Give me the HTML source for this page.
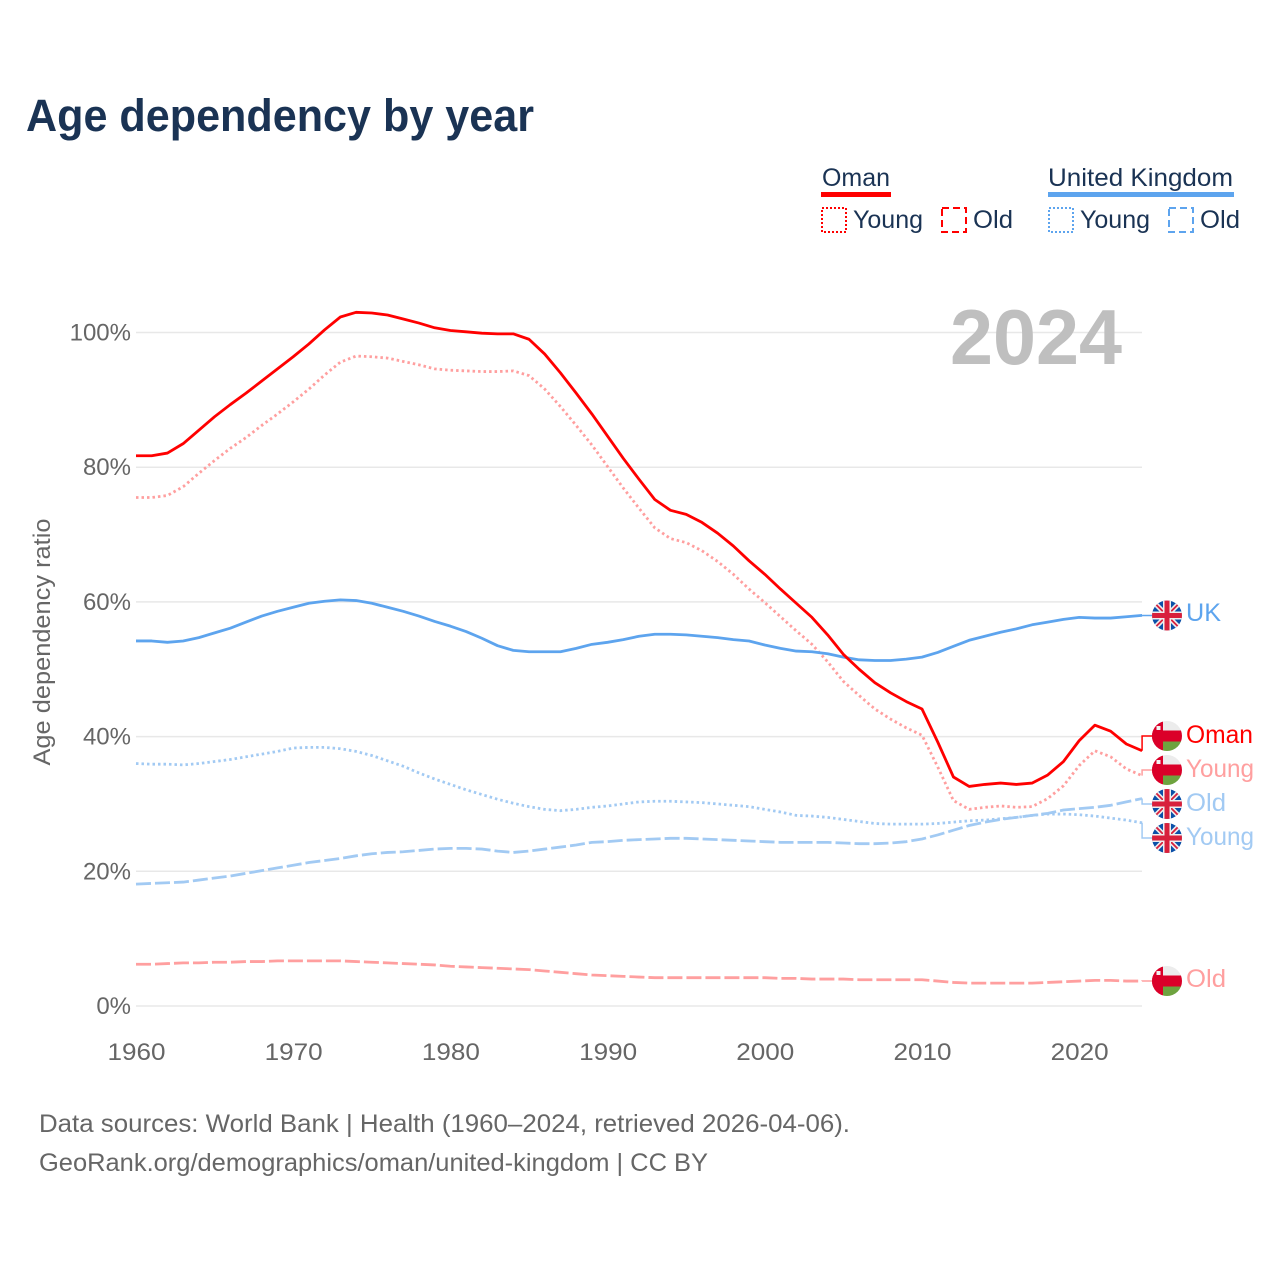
<!DOCTYPE html>
<html lang="en">
<head>
<meta charset="utf-8">
<title>Age dependency by year</title>
<style>
html,body{margin:0;padding:0;background:#fff;width:1280px;height:1280px;overflow:hidden}
svg{display:block}
text{font-family:"Liberation Sans",sans-serif}
.series{fill:none;stroke-linejoin:round}
.leader{fill:none;stroke-width:1.5}
.lbl{font-size:25px}
.legend-text{font-size:25px;fill:#1a3354}
.foot{font-size:25px;fill:#666}
</style>
</head>
<body>
<svg id="chart" xmlns="http://www.w3.org/2000/svg" width="1280" height="1280" viewBox="0 0 1280 1280">
<defs>
  <clipPath id="flag-clip"><circle cx="0" cy="0" r="15"/></clipPath>
  <g id="flag-oman" clip-path="url(#flag-clip)">
    <rect x="-15" y="-15" width="30" height="30" fill="#ececec"/>
    <rect x="-4" y="5.5" width="19" height="10" fill="#6ea33f"/>
    <rect x="-15" y="-5.5" width="30" height="11" fill="#db0029"/>
    <rect x="-15" y="-15" width="11" height="30" fill="#db0029"/>
    <rect x="-10.5" y="-10" width="4" height="4" fill="#f2f2f2"/>
  </g>
  <g id="flag-uk" clip-path="url(#flag-clip)">
    <rect x="-15" y="-15" width="30" height="30" fill="#0b50a8"/>
    <path d="M-15-15L15 15M15-15L-15 15" stroke="#eee" stroke-width="5"/>
    <path d="M-15-15L15 15M15-15L-15 15" stroke="#d8203c" stroke-width="1.8"/>
    <path d="M0-15V15M-15 0H15" stroke="#eee" stroke-width="8"/>
    <path d="M0-15V15M-15 0H15" stroke="#d8203c" stroke-width="5"/>
  </g>
</defs>

<text x="26" y="131" font-size="45" font-weight="700" fill="#1a3354" textLength="508" lengthAdjust="spacingAndGlyphs">Age dependency by year</text>

<g>
  <text class="legend-text" x="822" y="186" textLength="68" lengthAdjust="spacingAndGlyphs">Oman</text>
  <rect x="821" y="192" width="70" height="5" fill="#ff0000"/>
  <rect x="822" y="208" width="24" height="24" fill="none" stroke="#ff0000" stroke-width="2" stroke-dasharray="2 2"/>
  <text class="legend-text" x="853" y="228" textLength="70" lengthAdjust="spacingAndGlyphs">Young</text>
  <rect x="942" y="208" width="24" height="24" fill="none" stroke="#ff0000" stroke-width="2" stroke-dasharray="7 4"/>
  <text class="legend-text" x="973" y="228" textLength="40" lengthAdjust="spacingAndGlyphs">Old</text>

  <text class="legend-text" x="1048" y="186" textLength="185" lengthAdjust="spacingAndGlyphs">United Kingdom</text>
  <rect x="1048" y="192" width="186" height="5" fill="#5da4ee"/>
  <rect x="1049" y="208" width="24" height="24" fill="none" stroke="#5da4ee" stroke-width="2" stroke-dasharray="2 2"/>
  <text class="legend-text" x="1080" y="228" textLength="70" lengthAdjust="spacingAndGlyphs">Young</text>
  <rect x="1169" y="208" width="24" height="24" fill="none" stroke="#5da4ee" stroke-width="2" stroke-dasharray="7 4"/>
  <text class="legend-text" x="1200" y="228" textLength="40" lengthAdjust="spacingAndGlyphs">Old</text>
</g>

<g id="grid"></g>
<g id="yticks"></g>
<g id="xticks"></g>

<text x="950" y="364" font-size="78" font-weight="700" fill="#bfbfbf" textLength="172" lengthAdjust="spacingAndGlyphs">2024</text>

<text transform="translate(50,642) rotate(-90)" text-anchor="middle" font-size="24" fill="#666" textLength="247" lengthAdjust="spacingAndGlyphs">Age dependency ratio</text>

<g id="series">
  <path id="s-oman-old" class="series" stroke="#ff9f9f" stroke-width="2.8" stroke-dasharray="15 4"/>
  <path id="s-uk-old" class="series" stroke="#a2caf3" stroke-width="2.8" stroke-dasharray="15 4"/>
  <path id="s-uk-young" class="series" stroke="#a2caf3" stroke-width="2.8" stroke-dasharray="2.5 3"/>
  <path id="s-oman-young" class="series" stroke="#ff9f9f" stroke-width="2.8" stroke-dasharray="2.5 3"/>
  <path id="s-uk-total" class="series" stroke="#5da4ee" stroke-width="2.8"/>
  <path id="s-oman-total" class="series" stroke="#ff0000" stroke-width="2.8"/>
</g>

<g id="leaders">
  <path id="l-uk-total" class="leader" stroke="#5da4ee"/>
  <path id="l-oman-total" class="leader" stroke="#ff0000"/>
  <path id="l-oman-young" class="leader" stroke="#ff9f9f"/>
  <path id="l-uk-old" class="leader" stroke="#a2caf3"/>
  <path id="l-uk-young" class="leader" stroke="#a2caf3"/>
  <path id="l-oman-old" class="leader" stroke="#ff9f9f"/>
</g>

<g>
  <use href="#flag-uk" x="1167" y="615.5"/>
  <text class="lbl" x="1186" y="621" fill="#5da4ee" textLength="35" lengthAdjust="spacingAndGlyphs">UK</text>
  <use href="#flag-oman" x="1167" y="736"/>
  <text class="lbl" x="1186" y="743" fill="#ff0000" textLength="67" lengthAdjust="spacingAndGlyphs">Oman</text>
  <use href="#flag-oman" x="1167" y="770"/>
  <text class="lbl" x="1186" y="777" fill="#ff9f9f" textLength="68" lengthAdjust="spacingAndGlyphs">Young</text>
  <use href="#flag-uk" x="1167" y="804"/>
  <text class="lbl" x="1186" y="811" fill="#a2caf3" textLength="40" lengthAdjust="spacingAndGlyphs">Old</text>
  <use href="#flag-uk" x="1167" y="838"/>
  <text class="lbl" x="1186" y="845" fill="#a2caf3" textLength="68" lengthAdjust="spacingAndGlyphs">Young</text>
  <use href="#flag-oman" x="1167" y="981"/>
  <text class="lbl" x="1186" y="987" fill="#ff9f9f" textLength="40" lengthAdjust="spacingAndGlyphs">Old</text>
</g>

<text class="foot" x="39" y="1132" textLength="811" lengthAdjust="spacingAndGlyphs">Data sources: World Bank | Health (1960–2024, retrieved 2026-04-06).</text>
<text class="foot" x="39" y="1171" textLength="669" lengthAdjust="spacingAndGlyphs">GeoRank.org/demographics/oman/united-kingdom | CC BY</text>
</svg>

<script>
const years = [
1960,1961,1962,1963,1964,1965,1966,1967,1968,1969,
1970,1971,1972,1973,1974,1975,1976,1977,1978,1979,
1980,1981,1982,1983,1984,1985,1986,1987,1988,1989,
1990,1991,1992,1993,1994,1995,1996,1997,1998,1999,
2000,2001,2002,2003,2004,2005,2006,2007,2008,2009,
2010,2011,2012,2013,2014,2015,2016,2017,2018,2019,
2020,2021,2022,2023,2024];
const omanTotal = [
81.7,81.7,82.1,83.5,85.5,87.5,89.3,91.0,92.8,94.6,
96.4,98.3,100.4,102.3,103.0,102.9,102.6,102.0,101.4,100.7,
100.3,100.1,99.9,99.8,99.8,99.0,96.8,94.0,91.0,87.9,
84.6,81.3,78.2,75.2,73.6,73.0,71.8,70.2,68.3,66.1,
64.1,61.9,59.8,57.7,55.1,52.2,50.0,48.0,46.5,45.2,
44.1,39.2,34.0,32.6,32.9,33.1,32.9,33.1,34.3,36.3,
39.4,41.7,40.8,38.9,37.9];
const omanYoung = [
75.5,75.5,75.8,77.1,79.1,81.0,82.8,84.4,86.2,87.9,
89.7,91.6,93.7,95.6,96.5,96.4,96.2,95.7,95.2,94.6,
94.4,94.3,94.2,94.2,94.3,93.6,91.6,89.0,86.2,83.3,
80.1,76.9,73.9,71.0,69.4,68.8,67.6,66.0,64.1,61.9,
59.9,57.8,55.7,53.7,51.1,48.2,46.1,44.1,42.6,41.3,
40.2,35.5,30.5,29.2,29.5,29.7,29.5,29.6,30.8,32.7,
35.7,37.9,37.0,35.2,34.2];
const omanOld = [
6.2,6.2,6.3,6.4,6.4,6.5,6.5,6.6,6.6,6.7,
6.7,6.7,6.7,6.7,6.6,6.5,6.4,6.3,6.2,6.1,
5.9,5.8,5.7,5.6,5.5,5.4,5.2,5.0,4.8,4.6,
4.5,4.4,4.3,4.2,4.2,4.2,4.2,4.2,4.2,4.2,
4.2,4.1,4.1,4.0,4.0,4.0,3.9,3.9,3.9,3.9,
3.9,3.7,3.5,3.4,3.4,3.4,3.4,3.4,3.5,3.6,
3.7,3.8,3.8,3.7,3.7];
const ukTotal = [
54.2,54.2,54.0,54.2,54.7,55.4,56.1,57.0,57.9,58.6,
59.2,59.8,60.1,60.3,60.2,59.8,59.2,58.6,57.9,57.1,
56.4,55.6,54.6,53.5,52.8,52.6,52.6,52.6,53.1,53.7,
54.0,54.4,54.9,55.2,55.2,55.1,54.9,54.7,54.4,54.2,
53.6,53.1,52.7,52.6,52.3,51.8,51.4,51.3,51.3,51.5,
51.8,52.5,53.4,54.3,54.9,55.5,56.0,56.6,57.0,57.4,
57.7,57.6,57.6,57.8,58.0];
const ukYoung = [
36.0,35.9,35.9,35.8,36.0,36.3,36.6,37.0,37.4,37.8,
38.3,38.4,38.4,38.2,37.8,37.2,36.4,35.6,34.6,33.7,
32.9,32.1,31.4,30.7,30.1,29.6,29.2,29.0,29.2,29.5,
29.7,30.0,30.3,30.4,30.4,30.3,30.2,30.0,29.8,29.6,
29.2,28.8,28.3,28.2,28.0,27.7,27.4,27.1,27.0,27.0,
27.0,27.1,27.3,27.5,27.6,27.8,28.0,28.3,28.5,28.5,
28.4,28.2,27.9,27.6,27.2];
const ukOld = [
18.1,18.2,18.3,18.4,18.7,19.0,19.3,19.7,20.1,20.5,
20.9,21.3,21.6,21.9,22.3,22.6,22.8,22.9,23.1,23.3,
23.4,23.4,23.3,23.0,22.8,23.0,23.3,23.6,23.9,24.3,
24.4,24.6,24.7,24.8,24.9,24.9,24.8,24.7,24.6,24.5,
24.4,24.3,24.3,24.3,24.3,24.2,24.1,24.1,24.2,24.4,
24.8,25.4,26.1,26.8,27.3,27.7,28.0,28.3,28.6,29.1,
29.3,29.5,29.8,30.3,30.8];
const yTickValues = [0,20,40,60,80,100];
const yTickLabels = ["0%","20%","40%","60%","80%","100%"];
const xTickValues = [1960,1970,1980,1990,2000,2010,2020];
const xTickLabels = ["1960","1970","1980","1990","2000","2010","2020"];

const SVGNS = "http://www.w3.org/2000/svg";
function xScale(year){ return 136 + (year - 1960) * 15.72; }
function yScale(value){ return 1006 - value * 6.735; }
function linePath(values){
  return values.map(function(v,i){
    return (i ? "L" : "M") + xScale(years[i]).toFixed(2) + " " + yScale(v).toFixed(2);
  }).join("");
}
function leaderPath(values,labelY){
  const ex = xScale(years[years.length-1]);
  const ey = yScale(values[values.length-1]);
  return "M" + ex.toFixed(2) + " " + ey.toFixed(2) + "V" + labelY + "H1152";
}
const grid = document.getElementById("grid");
const yticks = document.getElementById("yticks");
const xticks = document.getElementById("xticks");

yTickValues.forEach(function(v,i){
  const line = document.createElementNS(SVGNS,"line");
  
  
  line.setAttribute("x1",136);
  line.setAttribute("x2",1142);
  line.setAttribute("y1",yScale(v));
  line.setAttribute("y2",yScale(v));
  line.setAttribute("stroke","#e8e8e8");
  line.setAttribute("stroke-width","1.5");
  grid.appendChild(line);
  const t = document.createElementNS(SVGNS,"text");
  
  
  t.setAttribute("x",131);
  t.setAttribute("y",yScale(v)+8);
  t.setAttribute("text-anchor","end");
  t.setAttribute("font-size","24");
  t.setAttribute("fill","#666");
  t.textContent = yTickLabels[i];
  yticks.appendChild(t);
});
xTickValues.forEach(function(v,i){
  const t = document.createElementNS(SVGNS,"text");
  
  
  t.setAttribute("x",xScale(v)-28.5);
  t.setAttribute("y",1060);
  t.setAttribute("font-size","24");
  t.setAttribute("fill","#666");
  t.setAttribute("textLength","58");
  t.setAttribute("lengthAdjust","spacingAndGlyphs");
  t.textContent = xTickLabels[i];
  xticks.appendChild(t);
});
document.getElementById("s-oman-total").setAttribute("d",linePath(omanTotal));
document.getElementById("s-oman-young").setAttribute("d",linePath(omanYoung));
document.getElementById("s-oman-old").setAttribute("d",linePath(omanOld));
document.getElementById("s-uk-total").setAttribute("d",linePath(ukTotal));
document.getElementById("s-uk-young").setAttribute("d",linePath(ukYoung));
document.getElementById("s-uk-old").setAttribute("d",linePath(ukOld));
document.getElementById("l-uk-total").setAttribute("d",leaderPath(ukTotal,615.5));
document.getElementById("l-oman-total").setAttribute("d",leaderPath(omanTotal,736));
document.getElementById("l-oman-young").setAttribute("d",leaderPath(omanYoung,770));
document.getElementById("l-uk-old").setAttribute("d",leaderPath(ukOld,804));
document.getElementById("l-uk-young").setAttribute("d",leaderPath(ukYoung,838));
document.getElementById("l-oman-old").setAttribute("d",leaderPath(omanOld,981));
</script>
</body>
</html>
